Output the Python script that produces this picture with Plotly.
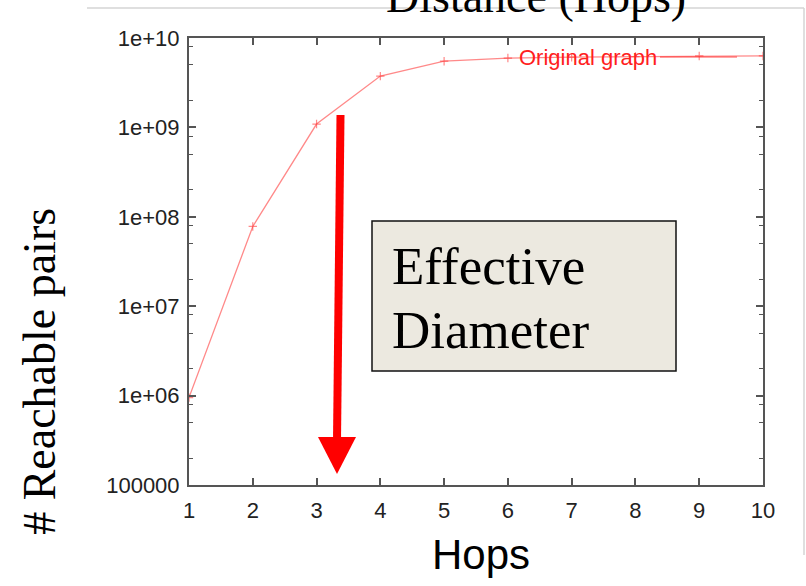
import plotly.graph_objects as go

# ---- data ----
hops = [1, 2, 3, 4, 5, 6, 7, 8, 9, 10]
reachable_pairs = [9.5e5, 7.8e7, 1.09e9, 3.75e9, 5.5e9, 5.97e9, 6.1e9, 6.2e9, 6.3e9, 6.3e9]
x_ticks = [1, 2, 3, 4, 5, 6, 7, 8, 9, 10]
y_tickvals = [1e5, 1e6, 1e7, 1e8, 1e9, 1e10]
y_ticktext = ["100000", "1e+06", "1e+07", "1e+08", "1e+09", "1e+10"]
y_minor = [m * 10 ** k for k in range(5, 10) for m in (2, 5, 8)]

W, H = 806, 586
L, R, T, B = 189, 43, 38, 101
PW, PH = W - L - R, H - T - B


def PX(px):
    return (px - L) / PW


def PY(py):
    return (H - B - py) / PH


LINE_RED = "rgba(255,40,40,0.55)"
AX = "#555555"

fig = go.Figure()
fig.add_trace(go.Scatter(
    x=hops, y=reachable_pairs, mode="lines+markers",
    line=dict(color=LINE_RED, width=1.3),
    marker=dict(symbol="cross-thin", size=6, line=dict(color=LINE_RED, width=1.2)),
    showlegend=False,
))

shapes = []
# light gray frame of the embedded picture
shapes.append(dict(type="line", xref="paper", yref="paper", x0=PX(87), x1=PX(804), y0=PY(8), y1=PY(8),
                   line=dict(color="#d4d4d4", width=1.5), layer="below"))
shapes.append(dict(type="line", xref="paper", yref="paper", x0=PX(804), x1=PX(804), y0=PY(8), y1=PY(555),
                   line=dict(color="#d4d4d4", width=1.5), layer="below"))
# legend sample line
shapes.append(dict(type="line", xref="paper", yref="paper", x0=PX(660), x1=PX(737), y0=PY(57), y1=PY(57),
                   line=dict(color=LINE_RED, width=1.3)))
# Effective diameter box
shapes.append(dict(type="rect", xref="paper", yref="paper", x0=PX(372), x1=PX(676), y0=PY(221), y1=PY(371),
                   fillcolor="#ECE9E0", line=dict(color="#111111", width=1.5)))
# arrow shaft
shapes.append(dict(type="line", xref="paper", yref="paper", x0=PX(340.5), x1=PX(337), y0=PY(115), y1=PY(441),
                   line=dict(color="#ff0000", width=8)))
# arrow head
shapes.append(dict(type="path", xref="paper", yref="paper",
                   path=f"M {PX(318)},{PY(437)} L {PX(356)},{PY(437)} L {PX(337)},{PY(474)} Z",
                   fillcolor="#ff0000", line=dict(color="#ff0000", width=0)))

annotations = [
    dict(text="Distance (Hops)", xref="paper", yref="paper", x=PX(536), y=PY(12 - 0.34 * 46),
         xanchor="center", yanchor="middle", showarrow=False,
         font=dict(family="Liberation Serif", size=46, color="black")),
    dict(text="# Reachable pairs", xref="paper", yref="paper", x=PX(55 - 0.34 * 46), y=PY(371.5),
         xanchor="center", yanchor="middle", showarrow=False, textangle=-90,
         font=dict(family="Liberation Serif", size=46, color="black")),
    dict(text="Hops", xref="paper", yref="paper", x=PX(480.5), y=PY(569 - 0.35 * 42),
         xanchor="center", yanchor="middle", showarrow=False,
         font=dict(family="Liberation Sans", size=42, color="black")),
    dict(text="Original graph", xref="paper", yref="paper", x=PX(659), y=PY(65 - 0.35 * 22),
         xanchor="right", yanchor="middle", showarrow=False,
         font=dict(family="Liberation Sans", size=22, color="#ff2020")),
    dict(text="Effective", xref="paper", yref="paper", x=PX(390), y=PY(284 - 0.34 * 53),
         xanchor="left", yanchor="middle", showarrow=False,
         font=dict(family="Liberation Serif", size=53, color="black")),
    dict(text="Diameter", xref="paper", yref="paper", x=PX(390), y=PY(348 - 0.34 * 53),
         xanchor="left", yanchor="middle", showarrow=False,
         font=dict(family="Liberation Serif", size=53, color="black")),
]

fig.update_layout(
    width=W, height=H,
    margin=dict(l=L, r=R, t=T, b=B, pad=0),
    paper_bgcolor="white", plot_bgcolor="white",
    shapes=shapes, annotations=annotations,
    xaxis=dict(range=[1, 10], tickmode="array", tickvals=x_ticks, ticks="inside", ticklen=7,
               tickwidth=1.5, tickcolor=AX, showline=True, linecolor=AX, linewidth=2, mirror="ticks",
               showgrid=False, zeroline=False, ticklabelstandoff=5,
               tickfont=dict(family="Liberation Sans", size=22, color="#222222")),
    yaxis=dict(type="log", range=[5, 10], tickmode="array", tickvals=y_tickvals, ticktext=y_ticktext,
               ticks="inside", ticklen=7, tickwidth=1.5, tickcolor=AX, showline=True, linecolor=AX,
               linewidth=2, mirror="ticks", showgrid=False, zeroline=False, ticklabelstandoff=3,
               minor=dict(tickvals=y_minor, ticks="inside", ticklen=4, tickwidth=1, tickcolor=AX),
               tickfont=dict(family="Liberation Sans", size=22, color="#222222")),
)

fig.write_html("out.html")
